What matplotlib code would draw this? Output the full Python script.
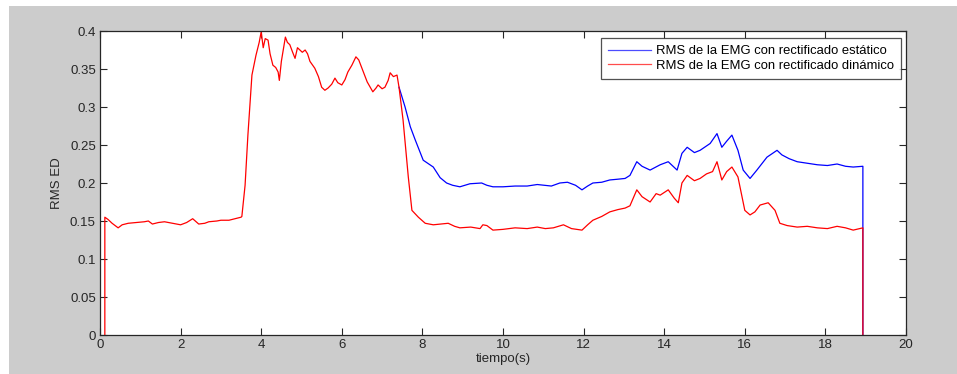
import matplotlib
matplotlib.use("Agg")
import matplotlib.pyplot as plt
from matplotlib.patches import Rectangle
from matplotlib.ticker import FuncFormatter

plt.rcParams['font.family'] = ['Liberation Sans', 'DejaVu Sans']

# tramo comun (las dos curvas coinciden hasta ~7.4 s)
t_common = [0.12, 0.12, 0.2, 0.3, 0.45, 0.55, 0.7, 0.9, 1.1, 1.2, 1.3, 1.45, 1.6, 1.8, 2.0, 2.15,
            2.3, 2.45, 2.6, 2.7, 2.9, 3.0, 3.2, 3.35, 3.5, 3.52, 3.6, 3.67, 3.77, 3.87, 3.95, 4.0,
            4.05, 4.1, 4.17, 4.22, 4.29, 4.36, 4.42, 4.45, 4.5, 4.6, 4.65, 4.71, 4.78, 4.84, 4.9,
            4.96, 5.02, 5.09, 5.15, 5.21, 5.33, 5.42, 5.5, 5.58, 5.66, 5.75, 5.83, 5.9, 6.0, 6.08,
            6.15, 6.25, 6.35, 6.42, 6.5, 6.63, 6.77, 6.85, 6.9, 7.0, 7.07, 7.15, 7.2, 7.28, 7.37, 7.42]
v_common = [0, 0.155, 0.152, 0.147, 0.141, 0.145, 0.147, 0.148, 0.149, 0.150, 0.146, 0.148, 0.149,
            0.147, 0.145, 0.148, 0.153, 0.146, 0.147, 0.149, 0.150, 0.151, 0.151, 0.153, 0.155,
            0.156, 0.197, 0.263, 0.342, 0.368, 0.385, 0.399, 0.378, 0.39, 0.388, 0.37, 0.355,
            0.352, 0.346, 0.335, 0.36, 0.392, 0.385, 0.382, 0.372, 0.364, 0.378, 0.375, 0.372,
            0.375, 0.37, 0.36, 0.351, 0.34, 0.326, 0.322, 0.325, 0.33, 0.338, 0.332, 0.329, 0.336,
            0.346, 0.355, 0.366, 0.362, 0.351, 0.333, 0.32, 0.325, 0.329, 0.324, 0.326, 0.335,
            0.345, 0.34, 0.342, 0.326]

# rectificado dinamico (rojo)
t_red = [7.52, 7.65, 7.74, 7.9, 8.07, 8.27, 8.45, 8.64, 8.8, 8.93, 9.2, 9.43, 9.5, 9.6, 9.75, 10.0,
         10.3, 10.6, 10.85, 11.05, 11.25, 11.5, 11.7, 11.96, 12.1, 12.23, 12.45, 12.65, 12.85,
         13.03, 13.15, 13.32, 13.45, 13.65, 13.8, 13.9, 14.1, 14.25, 14.35, 14.44, 14.57, 14.75,
         14.89, 15.05, 15.2, 15.31, 15.43, 15.55, 15.68, 15.83, 15.93, 16.0, 16.13, 16.25, 16.38,
         16.58, 16.75, 16.87, 17.05, 17.3, 17.55, 17.8, 18.05, 18.29, 18.5, 18.69, 18.93, 18.93]
v_red = [0.283, 0.208, 0.164, 0.155, 0.147, 0.145, 0.146, 0.147, 0.143, 0.141, 0.142, 0.14, 0.145,
         0.144, 0.138, 0.139, 0.141, 0.14, 0.142, 0.14, 0.141, 0.145, 0.14, 0.138, 0.145, 0.151,
         0.156, 0.162, 0.165, 0.167, 0.17, 0.191, 0.182, 0.175, 0.186, 0.184, 0.191, 0.18, 0.174,
         0.2, 0.21, 0.203, 0.206, 0.212, 0.215, 0.228, 0.204, 0.215, 0.221, 0.208, 0.182, 0.164,
         0.158, 0.162, 0.171, 0.174, 0.164, 0.147, 0.144, 0.142, 0.143, 0.141, 0.14, 0.143, 0.141,
         0.138, 0.141, 0]

# rectificado estatico (azul)
t_blue = [7.57, 7.7, 7.82, 8.02, 8.27, 8.44, 8.6, 8.75, 8.93, 9.18, 9.47, 9.6, 9.75, 10.0, 10.3,
          10.6, 10.85, 11.2, 11.41, 11.6, 11.8, 11.96, 12.1, 12.23, 12.45, 12.65, 12.85, 13.03,
          13.15, 13.32, 13.45, 13.65, 13.9, 14.1, 14.32, 14.44, 14.57, 14.75, 14.89, 15.14, 15.31,
          15.43, 15.55, 15.68, 15.83, 15.96, 16.13, 16.3, 16.55, 16.8, 16.92, 17.1, 17.3, 17.55,
          17.8, 18.05, 18.29, 18.5, 18.69, 18.93, 18.93]
v_blue = [0.3, 0.274, 0.257, 0.23, 0.221, 0.207, 0.2, 0.197, 0.195, 0.199, 0.2, 0.197, 0.195, 0.195,
          0.196, 0.196, 0.198, 0.196, 0.2, 0.201, 0.197, 0.191, 0.196, 0.2, 0.201, 0.204, 0.205,
          0.206, 0.21, 0.228, 0.222, 0.217, 0.224, 0.228, 0.217, 0.239, 0.247, 0.24, 0.243, 0.252,
          0.265, 0.247, 0.255, 0.263, 0.243, 0.217, 0.206, 0.217, 0.234, 0.243, 0.237, 0.232,
          0.228, 0.226, 0.224, 0.223, 0.225, 0.222, 0.221, 0.222, 0]

x_ticks = [0, 2, 4, 6, 8, 10, 12, 14, 16, 18, 20]
y_ticks = [0, 0.05, 0.1, 0.15, 0.2, 0.25, 0.3, 0.35, 0.4]

fig = plt.figure(figsize=(9.57, 3.74), dpi=100, facecolor='white')
# fondo gris tipo matlab
fig.patches.append(Rectangle((9 / 957, 0), 1 - 9 / 957, 1 - 6 / 374, transform=fig.transFigure,
                             facecolor='#cccccc', edgecolor='none', zorder=-10))

ax = fig.add_axes([100 / 957, 1 - 335 / 374, 806 / 957, 304 / 374])
ax.set_facecolor('white')

# el azul queda tapado por el rojo en el tramo comun: se dibuja desde la bifurcacion
lb, = ax.plot(t_common[-1:] + t_blue, v_common[-1:] + v_blue, color='#0000ff', lw=0.9)
lr, = ax.plot(t_common + t_red, v_common + v_red, color='#ff0000', lw=0.9)

ax.set_xlim(0, 20)
ax.set_ylim(0, 0.4)
ax.set_xticks(x_ticks)
ax.set_yticks(y_ticks)
ax.yaxis.set_major_formatter(FuncFormatter(lambda v, p: '%g' % v))
ax.tick_params(direction='in', length=5, width=0.8, top=True, right=True,
               labelsize=9.5, colors='#262626', pad=3)
for s in ax.spines.values():
    s.set_color('#262626')
    s.set_linewidth(0.9)

ax.set_xlabel('tiempo(s)', fontsize=9.5, color='#262626', labelpad=1)
ax.set_ylabel('RMS ED', fontsize=9.5, color='#262626', labelpad=5)

leg = ax.legend([lb, lr], ['RMS de la EMG con rectificado estático',
                           'RMS de la EMG con rectificado dinámico'],
                loc='upper right', bbox_to_anchor=(0.994, 0.977), fontsize=9.4, frameon=True,
                fancybox=False, borderpad=0.55, labelspacing=0.2, handlelength=3.3,
                handletextpad=0.35, borderaxespad=0)
leg.get_frame().set_edgecolor('#262626')
leg.get_frame().set_linewidth(0.9)
for h in leg.get_lines():
    h.set_alpha(0.7)

fig.savefig('out.png', dpi=100, facecolor=fig.get_facecolor())
